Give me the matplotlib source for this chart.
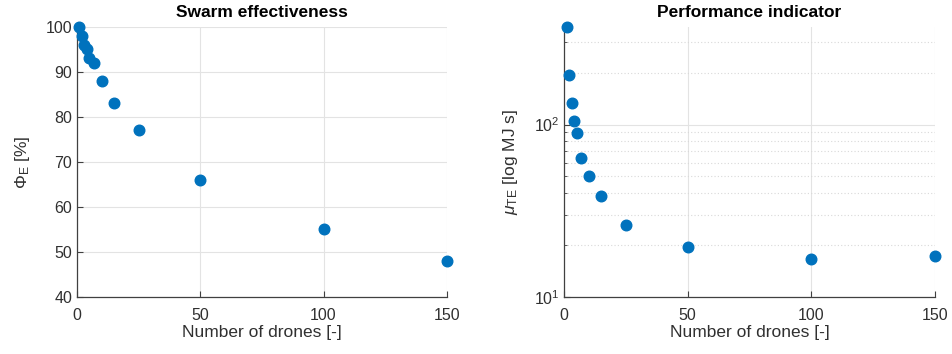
import matplotlib
matplotlib.use("Agg")
import matplotlib.pyplot as plt
from matplotlib.ticker import LogLocator, NullFormatter, FixedLocator

plt.rcParams['font.family'] = ['Liberation Sans', 'DejaVu Sans']
plt.rcParams['mathtext.fontset'] = 'custom'
plt.rcParams['mathtext.rm'] = 'Liberation Sans'
plt.rcParams['mathtext.it'] = 'Liberation Sans:italic'

drones = [1, 2, 3, 4, 5, 7, 10, 15, 25, 50, 100, 150]
effectiveness = [100, 98, 96, 95, 93, 92, 88, 83, 77, 66, 55, 48]
performance = [368, 194, 133, 105, 89, 64, 50, 38.6, 26.2, 19.5, 16.6, 17.3]

x_ticks = [0, 50, 100, 150]
eff_ticks = [40, 50, 60, 70, 80, 90, 100]

blue = '#0072BD'
axis_col = '#404040'
text_col = '#303030'
grid_col = '#e3e3e3'

fig = plt.figure(figsize=(9.53, 3.54), dpi=100)
ax1 = fig.add_axes([0.0808, 0.161, 0.388, 0.763])
ax2 = fig.add_axes([0.592, 0.161, 0.389, 0.763])

for ax in (ax1, ax2):
    for s in ('top', 'right'):
        ax.spines[s].set_visible(False)
    for s in ('left', 'bottom'):
        ax.spines[s].set_color(axis_col)
        ax.spines[s].set_linewidth(0.9)
    ax.tick_params(which='both', direction='in', colors=axis_col,
                   labelcolor=text_col, labelsize=11.5)
    ax.tick_params(which='major', length=4)
    ax.tick_params(which='minor', length=2.5)
    ax.tick_params(axis='x', pad=8)
    ax.set_axisbelow(True)
    ax.set_xlim(0, 150)
    ax.xaxis.set_major_locator(FixedLocator(x_ticks))
    ax.set_xlabel('Number of drones [-]', fontsize=12.5, color=text_col, labelpad=1)

# Left panel: swarm effectiveness
ax1.scatter(drones, effectiveness, s=58, color=blue, zorder=3, clip_on=False)
ax1.set_ylim(40, 100)
ax1.yaxis.set_major_locator(FixedLocator(eff_ticks))
ax1.grid(True, which='major', color=grid_col, linewidth=0.8)
ax1.set_title('Swarm effectiveness', fontsize=12.5, fontweight='bold', pad=7)
ax1.set_ylabel(r'$\Phi_{\mathrm{E}}$ [%]', fontsize=12.5, color=text_col, labelpad=10)

# Right panel: performance indicator on a log scale
ax2.scatter(drones, performance, s=58, color=blue, zorder=3, clip_on=False)
ax2.set_yscale('log')
ax2.set_ylim(10, max(performance))
ax2.yaxis.set_major_locator(LogLocator(base=10, numticks=5))
ax2.yaxis.set_minor_locator(LogLocator(base=10, subs=range(2, 10), numticks=20))
ax2.yaxis.set_minor_formatter(NullFormatter())
ax2.grid(True, which='major', color=grid_col, linewidth=0.8)
ax2.grid(True, which='minor', axis='y', color='#d9d9d9', linewidth=0.8,
         linestyle=(0, (1, 2)))
ax2.set_title('Performance indicator', fontsize=12.5, fontweight='bold', pad=7)
ax2.set_ylabel(r'$\mu_{\mathrm{TE}}$ [log MJ s]', fontsize=12.5, color=text_col, labelpad=10)

fig.savefig('out.png', dpi=100)
